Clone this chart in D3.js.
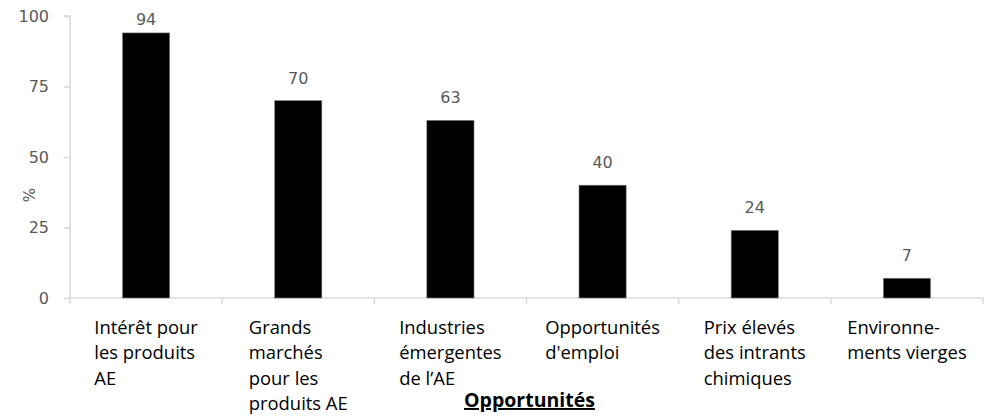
<!DOCTYPE html>
<html>
<head>
<meta charset="utf-8">
<script src="https://cdn.jsdelivr.net/npm/d3@7.9.0/dist/d3.min.js"></script>
<style>
  html, body { margin: 0; padding: 0; background: #fff; }
  svg { display: block; }
</style>
</head>
<body>
<svg id="chart" width="992" height="419"></svg>
<script>
// data
const categories = [
  ['Intérêt pour', 'les produits', 'AE'],
  ['Grands', 'marchés', 'pour les', 'produits AE'],
  ['Industries', 'émergentes', 'de l’AE'],
  ['Opportunités', "d'emploi"],
  ['Prix élevés', 'des intrants', 'chimiques'],
  ['Environne-', 'ments vierges']
];
const values = [94, 70, 63, 40, 24, 7];
const yTicks = [0, 25, 50, 75, 100];
const yLabel = '%';
const xTitle = 'Opportunités';

const svg = d3.select('#chart');
const plotL = 70, plotR = 983, plotT = 16, plotB = 298;
const axisColor = '#d9d9d9';
const numFont = '"DejaVu Sans", sans-serif';
const txtFont = '"Open Sans", sans-serif';

const ids = categories.map((c, i) => i);
const x = d3.scaleBand().domain(ids).range([plotL, plotR])
  .paddingInner(0.69).paddingOuter(0.345);
const y = d3.scaleLinear().domain([0, 100]).range([plotB, plotT]);

// y axis
const yAxis = svg.append('g')
  .attr('transform', `translate(${plotL},0)`)
  .call(d3.axisLeft(y).tickValues(yTicks).tickSize(6).tickPadding(15));
yAxis.select('.domain').attr('stroke', axisColor).attr('stroke-width', 1.5)
  .attr('d', `M-6,${plotT}H0V${plotB}`);
yAxis.selectAll('.tick line').attr('stroke', axisColor).attr('stroke-width', 1.5);
yAxis.selectAll('.tick text')
  .attr('fill', '#595959')
  .style('font-family', numFont)
  .style('font-size', '16px');

// x axis line + category boundary ticks
svg.append('line')
  .attr('x1', plotL).attr('x2', plotR)
  .attr('y1', y(0)).attr('y2', y(0))
  .attr('stroke', axisColor).attr('stroke-width', 1.5);
const gap = (x.step() - x.bandwidth()) / 2;
const bounds = ids.map(i => x(i) - gap).concat([plotR]);
svg.selectAll('.xtick').data(bounds).join('line')
  .attr('class', 'xtick')
  .attr('x1', d => d).attr('x2', d => d)
  .attr('y1', y(0)).attr('y2', y(0) + 6)
  .attr('stroke', axisColor).attr('stroke-width', 1.5);

// bars
svg.selectAll('.bar').data(values).join('rect')
  .attr('class', 'bar')
  .attr('x', (d, i) => x(i))
  .attr('width', x.bandwidth())
  .attr('y', d => y(d))
  .attr('height', d => y(0) - y(d))
  .attr('fill', '#000')
  .attr('stroke', '#7f7f7f')
  .attr('stroke-width', 0.6);

// value labels (kept inside the plot area at the top, like the original)
svg.selectAll('.val').data(values).join('text')
  .attr('class', 'val')
  .attr('x', (d, i) => x(i) + x.bandwidth() / 2)
  .attr('y', d => Math.max(y(d) - 17, 25))
  .attr('text-anchor', 'middle')
  .attr('fill', '#595959')
  .style('font-family', numFont)
  .style('font-size', '16px')
  .text(d => d);

// category labels: left-aligned block centred under each bar
categories.forEach((lines, i) => {
  const t = svg.append('text')
    .style('font-family', txtFont)
    .style('font-size', '18.4px')
    .attr('fill', '#000');
  lines.forEach((ln, k) => {
    t.append('tspan').attr('y', 334 + k * 25.3).text(ln);
  });
  const w = d3.max(t.selectAll('tspan').nodes(), n => n.getComputedTextLength());
  const cx = x(i) + x.bandwidth() / 2 - w / 2;
  t.selectAll('tspan').attr('x', cx);
});

// y label
svg.append('text')
  .attr('transform', 'translate(35,195) rotate(-90)')
  .attr('text-anchor', 'middle')
  .attr('fill', '#595959')
  .style('font-family', numFont)
  .style('font-size', '15px')
  .text(yLabel);

// x title
svg.append('text')
  .attr('x', (plotL + plotR) / 2 + 3)
  .attr('y', 407)
  .attr('text-anchor', 'middle')
  .style('font-family', txtFont)
  .style('font-size', '19.5px')
  .style('font-weight', 'bold')
  .style('text-decoration', 'underline')
  .text(xTitle);
</script>
</body>
</html>
